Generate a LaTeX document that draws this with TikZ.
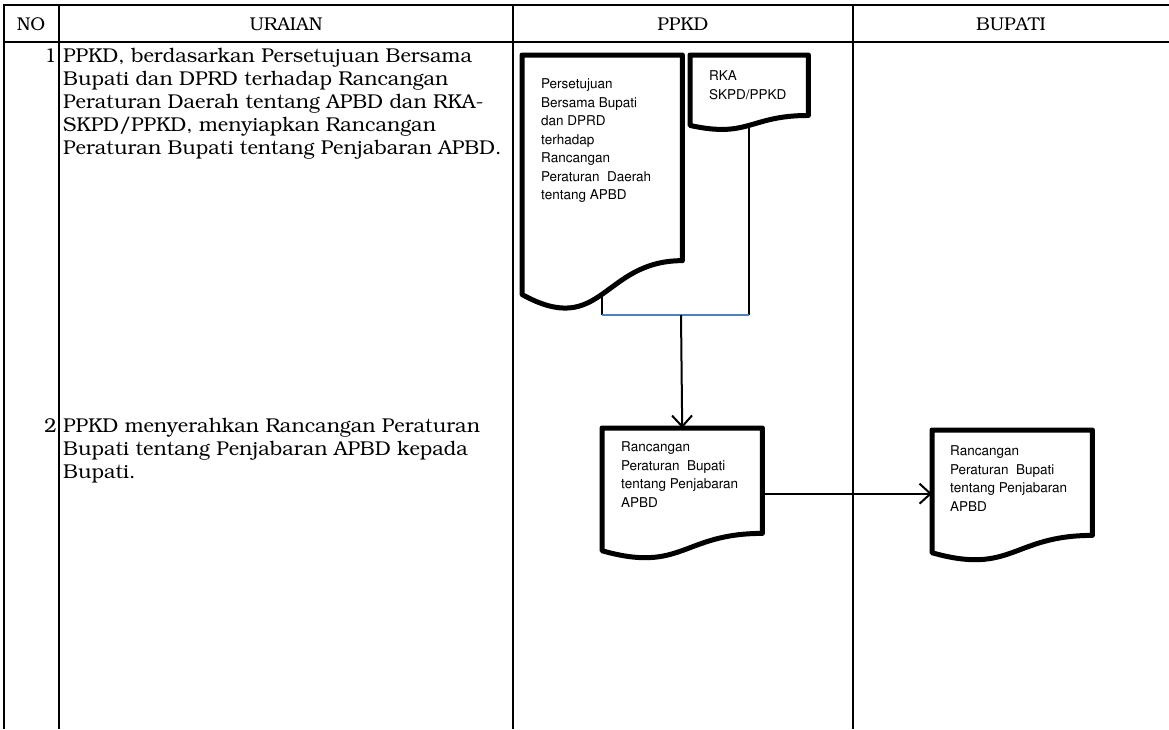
\documentclass[tikz,border=0pt]{standalone}
\usepackage[T1]{fontenc}
\usepackage{bookman}
\usepackage{helvet}
\usetikzlibrary{calc,arrows.meta,positioning}

\definecolor{linkblue}{RGB}{79,129,189}

% document symbol drawn round a named frame node
\newcommand{\docoutline}[1]{%
  \draw[docline] (#1.north west) -- (#1.north east)
    -- ($(#1.north east)!0.802!(#1.south east)$)
    .. controls ($(#1.north)!0.802!(#1.south)$) and ($(#1.north)!1.107!(#1.south)$)
    .. ($(#1.north west)!0.934!(#1.south west)$) -- cycle;}

\begin{document}
\begin{tikzpicture}[
            x=1pt, y=-1pt,
            doc/.style={rectangle,inner sep=0pt,minimum width=160pt,anchor=north west},
            doctxt/.style={anchor=north west,inner sep=0pt,align=left,font=\sffamily\fontsize{13.5}{18.5}\selectfont},
            docline/.style={line width=5pt,line join=round},
            hd/.style={anchor=base,inner sep=0pt,font=\fontsize{18.5}{22}\selectfont},
            txt/.style={anchor=north west,inner sep=0pt,align=left,font=\fontsize{20}{23}\selectfont},
            num/.style={anchor=north east,inner sep=0pt,font=\fontsize{20}{23}\selectfont},
            rule/.style={line width=1.2pt},
            thickrule/.style={line width=2pt},
            flow/.style={line width=2pt},
            arr/.style={-{Straight Barb[length=11pt,width=20pt,line width=2pt]}}
        ]

        \useasboundingbox (0,0) rectangle (1169,729);

        % table
        \draw[thickrule] (3,5) -- (1169,5);
        \draw[thickrule] (3,42) -- (1169,42);
        \draw[thickrule] (4,4) -- (4,729);
        \foreach \xx in {59,513,853}
            \draw[rule] (\xx,5) -- (\xx,729);

        \node[hd] (no) at (31,30) {NO};
        \node[hd] (uraian) at (286,30) {URAIAN};
        \node[hd] (ppkd) at (683,30) {PPKD};
        \node[hd] (bupati) at (1011,30) {BUPATI};

        % step 1
        \node[num] (n1) at (57,48) {1};
        \node[txt] (u1) at (63,48) {PPKD, berdasarkan Persetujuan Bersama\\
            Bupati dan DPRD terhadap Rancangan\\
            Peraturan Daerah tentang APBD dan RKA-\\
            SKPD/PPKD, menyiapkan Rancangan\\
            Peraturan Bupati tentang Penjabaran APBD.};

        \node[doc,minimum height=256pt] (persetujuan) at (522,55) {};
        \docoutline{persetujuan}
        \node[doctxt] (persetujuan-t) at ([xshift=19pt,yshift=-24pt]persetujuan.north west)
            {Persetujuan\\Bersama Bupati\\dan DPRD\\terhadap\\Rancangan\\Peraturan\ \ Daerah\\tentang APBD};

        \node[doc,minimum width=118pt,minimum height=75pt] (rka) at (690,55) {};
        \docoutline{rka}
        \node[doctxt] (rka-t) at ([xshift=19pt,yshift=-16pt]rka.north west) {RKA\\SKPD/PPKD};

        % step 2
        \node[num] (n2) at (57,418) {2};
        \node[txt] (u2) at (63,418) {PPKD menyerahkan Rancangan Peraturan\\
            Bupati tentang Penjabaran APBD kepada\\
            Bupati.};

        \node[doc,minimum height=131pt] (raperbup) at (602,428) {};
        \docoutline{raperbup}
        \node[doctxt] (raperbup-t) at ([xshift=19pt,yshift=-14pt]raperbup.north west)
            {Rancangan\\Peraturan\ \ Bupati\\tentang Penjabaran\\APBD};

        \node[doc,minimum height=131pt] (raperbup-b) at (932,430) {};
        \docoutline{raperbup-b}
        \node[doctxt] (raperbup-b-t) at ([xshift=18pt,yshift=-16pt]raperbup-b.north west)
            {Rancangan\\Peraturan\ \ Bupati\\tentang Penjabaran\\APBD};

        % connectors
        \coordinate (persetujuan-out) at ($(persetujuan.north)!0.933!(persetujuan.south)$);
        \coordinate (rka-out) at ($(rka.north)!0.933!(rka.south)$);
        \coordinate (join) at (681,315);

        \draw[flow] (persetujuan-out) -- (persetujuan-out |- join);
        \draw[flow] (rka-out) -- (rka-out |- join);
        \draw[flow,draw=linkblue] (persetujuan-out |- join) -- (rka-out |- join);
        \draw[flow,arr] (join) -- (raperbup.north);
        \draw[flow,arr] (raperbup.east) -- (raperbup.east -| raperbup-b.west);

\end{tikzpicture}
\end{document}
